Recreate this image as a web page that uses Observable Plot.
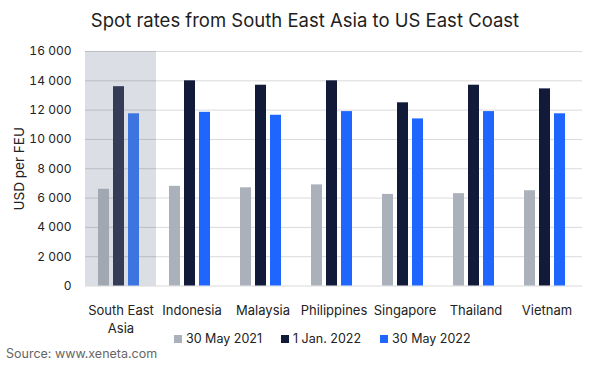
<!DOCTYPE html>
<html>
<head>
<meta charset="utf-8">
<script src="https://cdn.jsdelivr.net/npm/d3@7"></script>
<script src="https://cdn.jsdelivr.net/npm/@observablehq/plot@0.6"></script>
<style>
  body { margin: 0; background: #fff; font-family: Inter, "Open Sans", sans-serif; }
  #wrap { width: 598px; height: 371px; position: relative; overflow: hidden; }
  #title { height: 40px; line-height: 41px; font-size: 18.5px; color: #1e1e1e; text-align: center; padding-left: 12px; box-sizing: border-box; }
  #chart { position: relative; z-index: 1; }
  #legend { height: 17px; display: flex; align-items: center; padding-left: 174px; font-size: 12.5px; color: #222; }
  #legend .item { display: flex; align-items: center; margin-right: 19px; }
  #legend .sw { width: 8px; height: 8px; margin-right: 4px; }
  #source { height: 14px; line-height: 14px; padding-left: 6px; font-size: 12.5px; color: #666; }
  svg { display: block; overflow: visible; }
</style>
</head>
<body>
<div id="wrap">
  <div id="title">Spot rates from South East Asia to US East Coast</div>
  <div id="chart"></div>
  <div id="legend"></div>
  <div id="source">Source: www.xeneta.com</div>
</div>
<script>
const categories = ["South East Asia", "Indonesia", "Malaysia", "Philippines", "Singapore", "Thailand", "Vietnam"];
const seriesNames = ["30 May 2021", "1 Jan. 2022", "30 May 2022"];
const may2021 = [6600, 6800, 6700, 6900, 6250, 6300, 6500];
const jan2022 = [13600, 14000, 13700, 14000, 12500, 13700, 13450];
const may2022 = [11750, 11850, 11650, 11900, 11400, 11900, 11750];
const yTicks = [0, 2000, 4000, 6000, 8000, 10000, 12000, 14000, 16000];

const colors = ["#abb1ba", "#121a3a", "#1f66ff"];
const mutedColors = ["#a2a8b1", "#343c58", "#3c74e0"];
const highlight = "South East Asia";

const seriesValues = [may2021, jan2022, may2022];
const table = [];
categories.forEach((c, i) => {
  seriesNames.forEach((s, j) => {
    table.push({category: c, series: s, value: seriesValues[j][i], si: j});
  });
});

const fmt = d => d3.format(",")(d).replace(/,/g, " ");

const chart = Plot.plot({
  width: 598,
  height: 290,
  marginTop: 11,
  marginBottom: 44.5,
  marginLeft: 84,
  marginRight: 15,
  style: {fontFamily: "Inter, 'Open Sans', sans-serif", fontSize: "12px", color: "#222", overflow: "visible"},
  fx: {domain: categories, padding: 0, label: null},
  x: {domain: seriesNames, axis: null, paddingInner: 0.25, paddingOuter: 0.85, align: 0.45},
  y: {domain: [0, 16000], label: null},
  marks: [
    Plot.rect([highlight], {fx: d => d, y1: 0, y2: 16000, fill: "#dcdee5"}),
    Plot.gridY(yTicks, {stroke: "#000", strokeOpacity: 0.15, strokeWidth: 1}),
    Plot.barY(table, {
      fx: "category",
      x: "series",
      y: "value",
      fill: d => d.category === highlight ? mutedColors[d.si] : colors[d.si]
    }),
    Plot.axisY(yTicks, {
      tickSize: 0,
      tickPadding: 14,
      tickFormat: fmt,
      fontSize: 12,
      fill: "#222",
      label: null
    }),
    Plot.axisY([], {
      tickSize: 0,
      fontSize: 13.5,
      fill: "#222",
      label: "USD per FEU",
      labelAnchor: "center",
      labelArrow: "none",
      labelOffset: 71
    }),
    Plot.axisFx({
      anchor: "bottom",
      tickSize: 0,
      tickPadding: 16,
      fontSize: 13,
      lineHeight: 1.4,
      fill: "#222",
      label: null,
      tickFormat: d => d === "South East Asia" ? "South East\nAsia" : d
    })
  ]
});
document.getElementById("chart").appendChild(chart);

const legend = document.getElementById("legend");
seriesNames.forEach((s, i) => {
  const item = document.createElement("div");
  item.className = "item";
  const sw = document.createElement("div");
  sw.className = "sw";
  sw.style.background = colors[i];
  const t = document.createElement("span");
  t.textContent = s;
  item.appendChild(sw);
  item.appendChild(t);
  legend.appendChild(item);
});
</script>
</body>
</html>
